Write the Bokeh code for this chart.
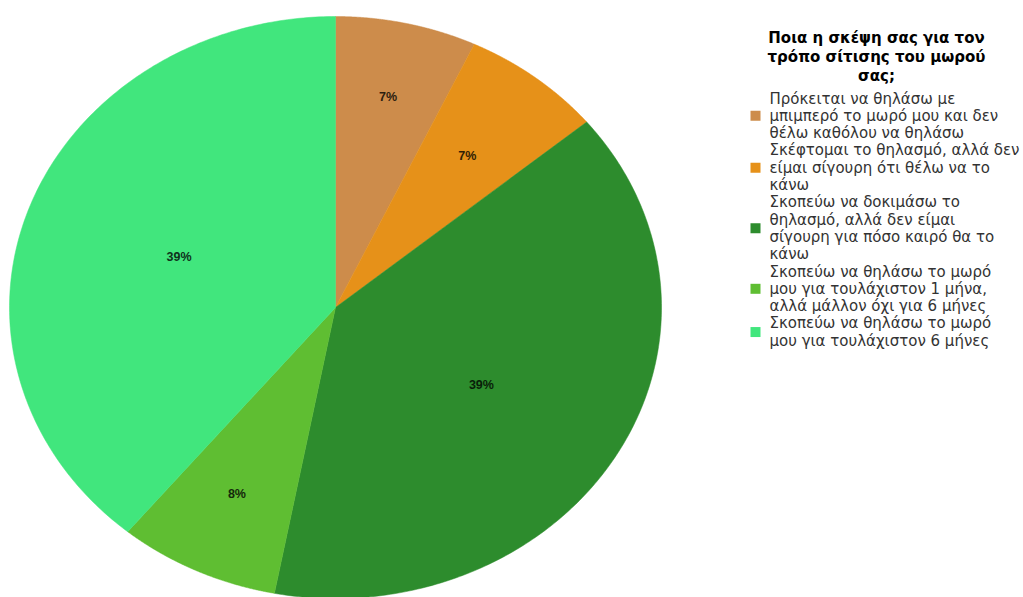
import numpy as np
from bokeh.plotting import figure
from bokeh.models import Range1d
from bokeh.core.properties import value
from bokeh.embed import file_html
from bokeh.resources import INLINE

# ---------------- data ----------------
title_lines = ["Ποια η σκέψη σας για τον", "τρόπο σίτισης του μωρού", "σας;"]
categories = [
    "Πρόκειται να θηλάσω με\nμπιμπερό το μωρό μου και δεν\nθέλω καθόλου να θηλάσω",
    "Σκέφτομαι το θηλασμό, αλλά δεν\nείμαι σίγουρη ότι θέλω να το\nκάνω",
    "Σκοπεύω να δοκιμάσω το\nθηλασμό, αλλά δεν είμαι\nσίγουρη για πόσο καιρό θα το\nκάνω",
    "Σκοπεύω να θηλάσω το μωρό\nμου για τουλάχιστον 1 μήνα,\nαλλά μάλλον όχι για 6 μήνες",
    "Σκοπεύω να θηλάσω το μωρό\nμου για τουλάχιστον 6 μήνες",
]
values = [7, 7, 39, 8, 39]
pct_labels = ["7%", "7%", "39%", "8%", "39%"]
colors = ["#CD8C4B", "#E69119", "#2D8C2D", "#5FBE32", "#41E67D"]

# ---------------- layout ----------------
W, H = 1023, 597
CX, CY, RX, RY = 335, 307, 326, 291
label_r = [0.74, 0.66, 0.52, 0.71, 0.51]
LEG_SQ_X, LEG_TXT_X, LEG_Y0, LEG_DY = 755, 769, 98, 17.3
TITLE_X, TITLE_Y0, TITLE_DY = 876, 37, 19

p = figure(width=W, height=H, output_backend="svg", toolbar_location=None,
           x_axis_type=None, y_axis_type=None,
           x_range=Range1d(0, W), y_range=Range1d(H, 0),
           min_border=0, outline_line_color=None,
           background_fill_color="white", border_fill_color="white")
p.xgrid.visible = False
p.ygrid.visible = False

# pie slices (elliptical)
total = float(sum(values))
cum = np.concatenate([[0.0], np.cumsum(values)]) / total * 2 * np.pi
xs, ys, lx, ly, lcol = [], [], [], [], []
for i in range(len(values)):
    a = np.linspace(cum[i], cum[i + 1], 200)
    xs.append(np.concatenate([[CX], CX + RX * np.sin(a)]).tolist())
    ys.append(np.concatenate([[CY], CY - RY * np.cos(a)]).tolist())
    m = 0.5 * (cum[i] + cum[i + 1])
    lx.append(CX + RX * label_r[i] * np.sin(m))
    ly.append(CY - RY * label_r[i] * np.cos(m))
    c = colors[i].lstrip("#")
    r, g, b = (int(c[k:k + 2], 16) for k in (0, 2, 4))
    lcol.append("#%02x%02x%02x" % (int(r * 0.22), int(g * 0.22), int(b * 0.22)))

p.patches(xs=xs, ys=ys, fill_color=colors, line_color=colors, line_width=0.5)

p.text(x=lx, y=ly, text=pct_labels, text_color=lcol,
       text_align="center", text_baseline="middle",
       text_font=value("Liberation Sans"), text_font_style="bold",
       text_font_size="12.5px")

# title
p.text(x=[TITLE_X] * len(title_lines),
       y=[TITLE_Y0 + k * TITLE_DY for k in range(len(title_lines))],
       text=title_lines, text_align="center", text_baseline="middle",
       text_font=value("DejaVu Sans"), text_font_style="bold",
       text_font_size="15px", text_color="#000000")

# legend
line_idx = 0
sq_y, tx, ty, tt = [], [], [], []
for cat in categories:
    lines = cat.split("\n")
    ys_item = [LEG_Y0 + (line_idx + k) * LEG_DY for k in range(len(lines))]
    sq_y.append(0.5 * (ys_item[0] + ys_item[-1]))
    tx += [LEG_TXT_X] * len(lines)
    ty += ys_item
    tt += lines
    line_idx += len(lines)

p.rect(x=[LEG_SQ_X] * len(categories), y=sq_y, width=10, height=10,
       fill_color=colors, line_color=None)
p.text(x=tx, y=ty, text=tt, text_align="left", text_baseline="middle",
       text_font=value("DejaVu Sans"), text_font_size="15px",
       text_color="#333333")

open("out.html", "w").write(file_html(p, INLINE))
